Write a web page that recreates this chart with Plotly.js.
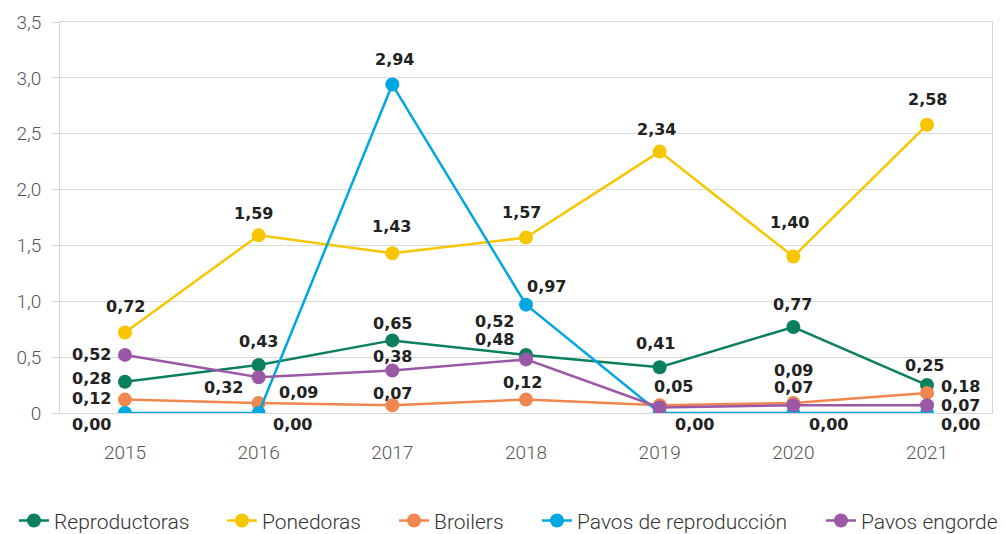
<!DOCTYPE html>
<html>
<head>
<meta charset="utf-8">
<script src="https://cdn.plot.ly/plotly-3.0.1.min.js"></script>
<style>html,body{margin:0;padding:0;background:#fff;}#chart{width:1006px;height:534px;}</style>
</head>
<body>
<div id="chart"></div>
<script>
// ---- data ----
var years = ['2015','2016','2017','2018','2019','2020','2021'];
var seriesNames = ['Reproductoras','Ponedoras','Broilers','Pavos de reproducción','Pavos engorde'];
var reproductoras = [0.28, 0.43, 0.65, 0.52, 0.41, 0.77, 0.25];
var ponedoras     = [0.72, 1.59, 1.43, 1.57, 2.34, 1.40, 2.58];
var broilers      = [0.12, 0.09, 0.07, 0.12, 0.07, 0.09, 0.18];
var pavosRepro    = [0.00, 0.00, 2.94, 0.97, 0.00, 0.00, 0.00];
var pavosEngorde  = [0.52, 0.32, 0.38, 0.48, 0.05, 0.07, 0.07];
var yTickVals   = [0, 0.5, 1, 1.5, 2, 2.5, 3, 3.5];
var yTickLabels = ['0', '0,5', '1,0', '1,5', '2,0', '2,5', '3,0', '3,5'];
// which points carry a value label (Broilers 2019 has none)
var showLabel = [
  [1,1,1,1,1,1,1],
  [1,1,1,1,1,1,1],
  [1,1,1,1,0,1,1],
  [1,1,1,1,1,1,1],
  [1,1,1,1,1,1,1]
];

// ---- styling ----
var colors = ['#0b7f5e', '#f7c600', '#f0874f', '#00a7e1', '#9a58a6'];
var legendX = [-0.0494, 0.1738, 0.3584, 0.5118, 0.8165];
// label offsets in pixels (dx right, dy down)
var labelDx = [
  [-33, 0, 0, -32, -4, -1, -3],
  [1, -5, -1, -5, -3, -4, 0],
  [-33, 40, 0, -4, 0, 0, 33],
  [-33, 34, 2, 20, 35, 35, 33],
  [-33, -35, 0, -32, 14, 0, 33]
];
var labelDy = [
  [-3, -23, -17, -33, -24, -22, -20],
  [-26, -22, -27, -25, -22, -34, -25],
  [-1, -10, -12, -17, 0, -32, -6],
  [11, 11, -25, -18, 11, 11, 11],
  [0, 10, -14, -20, -21, -18, 0]
];

var allSeries = [reproductoras, ponedoras, broilers, pavosRepro, pavosEngorde];

function fmt(v) { return v.toFixed(2).replace('.', ','); }
function legendKey(s) { return s === 0 ? 'legend' : 'legend' + (s + 1); }

var traces = allSeries.map(function (vals, s) {
  return {
    type: 'scatter',
    mode: 'lines+markers',
    name: seriesNames[s],
    x: years,
    y: vals,
    line: { color: colors[s], width: 2.5 },
    marker: { color: colors[s], size: 14 },
    legend: legendKey(s),
    hoverinfo: 'skip'
  };
});

var annotations = [];
allSeries.forEach(function (vals, s) {
  vals.forEach(function (v, i) {
    if (!showLabel[s][i]) return;
    annotations.push({
      x: i, y: v, xref: 'x', yref: 'y',
      text: '<b>' + fmt(v) + '</b>', showarrow: false,
      xshift: labelDx[s][i], yshift: -labelDy[s][i],
      xanchor: 'center', yanchor: 'middle',
      font: { family: 'DejaVu Sans', size: 16, color: '#222222' }
    });
  });
});

var layout = {
  width: 1006, height: 534,
  margin: { l: 60, r: 14, t: 22, b: 121, autoexpand: false },
  paper_bgcolor: '#ffffff', plot_bgcolor: '#ffffff',
  showlegend: true,
  xaxis: {
    type: 'category', range: [-0.486, 6.486], automargin: false,
    showgrid: false, zeroline: false,
    showline: true, mirror: true, linecolor: '#d6d6d6', linewidth: 1,
    ticks: '', ticklabelstandoff: 22,
    tickfont: { family: 'Roboto', size: 19, color: '#555555', weight: 300 }
  },
  yaxis: {
    range: [0, 3.5], tickvals: yTickVals, ticktext: yTickLabels, automargin: false,
    showgrid: true, gridcolor: '#d9d9d9', gridwidth: 1, zeroline: false,
    showline: true, mirror: true, linecolor: '#d6d6d6', linewidth: 1,
    ticks: 'outside', ticklen: 8, tickcolor: '#d6d6d6', ticklabelstandoff: 6,
    tickfont: { family: 'Roboto', size: 19, color: '#555555', weight: 300 }
  },
  annotations: annotations
};

seriesNames.forEach(function (n, s) {
  layout[legendKey(s)] = {
    orientation: 'h', x: legendX[s], xanchor: 'left', y: -0.276, yanchor: 'middle',
    font: { family: 'Roboto', size: 21, color: '#333333', weight: 300 },
    itemwidth: 30, bgcolor: 'rgba(0,0,0,0)', borderwidth: 0
  };
});

Plotly.newPlot('chart', traces, layout, { displayModeBar: false, staticPlot: true });
</script>
</body>
</html>
